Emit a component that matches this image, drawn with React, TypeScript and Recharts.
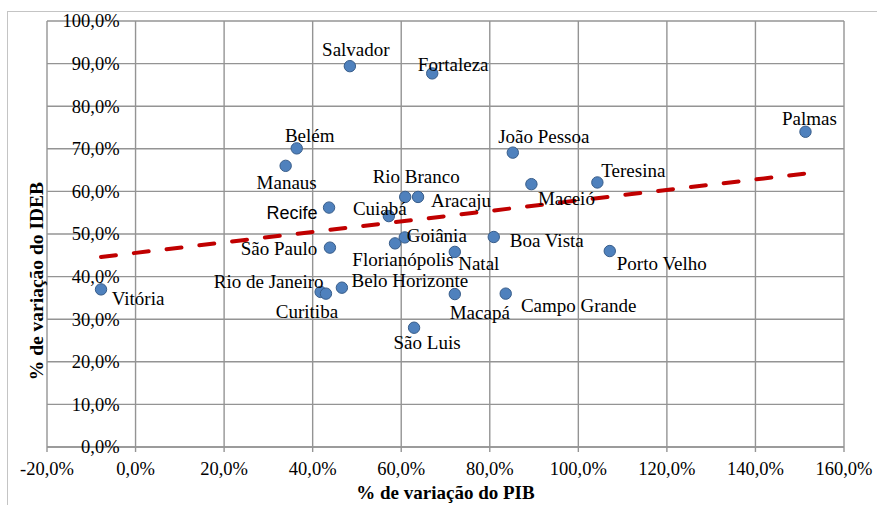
import React from 'react';
import { ScatterChart, Scatter, XAxis, YAxis, CartesianGrid, ReferenceLine, Label } from 'recharts';

// ---- data ----
const cities = [
  'Salvador', 'Fortaleza', 'Belém', 'Manaus', 'João Pessoa', 'Maceió', 'Teresina', 'Palmas',
  'Rio Branco', 'Aracaju', 'Recife', 'Cuiabá', 'Goiânia', 'Florianópolis', 'São Paulo',
  'Boa Vista', 'Natal', 'Porto Velho', 'Rio de Janeiro', 'Curitiba', 'Belo Horizonte',
  'Macapá', 'Campo Grande', 'São Luis', 'Vitória',
];
const pibVariation = [
  48.4, 67.0, 36.4, 33.9, 85.2, 89.4, 104.3, 151.3,
  60.9, 63.8, 43.7, 57.2, 60.8, 58.6, 43.9,
  80.9, 72.1, 107.1, 41.8, 43.0, 46.6,
  72.1, 83.6, 62.9, -7.8,
];
const idebVariation = [
  89.4, 87.7, 70.1, 66.0, 69.1, 61.7, 62.1, 74.0,
  58.7, 58.7, 56.2, 54.2, 49.2, 47.8, 46.8,
  49.3, 45.8, 46.0, 36.4, 36.0, 37.4,
  35.9, 36.0, 28.0, 37.0,
];
const xTicks = [-20, 0, 20, 40, 60, 80, 100, 120, 140, 160];
const yTicks = [0, 10, 20, 30, 40, 50, 60, 70, 80, 90, 100];
const trendX = [-7.8, 151.3];
const trendY = [44.6, 64.2];
const xTitle = '% de variação do PIB';
const yTitle = '% de variação do IDEB';

// ---- layout / style ----
const W = 877;
const H = 505;
const Y_AXIS_W = 40;
const M = { top: 21, right: 33, bottom: 0, left: 47 - Y_AXIS_W };
const PLOT_LEFT = M.left + Y_AXIS_W;
const X_AXIS_H = 58;
const X_MIN = -20;
const X_MAX = 160;
const PLOT_W = W - PLOT_LEFT - M.right;
const SERIF = '"Liberation Serif", "Times New Roman", serif';
const GRID = '#949494';

// label placement relative to each point (dx, dy of visual centre)
const labelPlacement: Record<string, [number, number]> = {
  Salvador: [6, -16],
  Fortaleza: [21, -9],
  'Belém': [13, -13],
  Manaus: [1, 17],
  'João Pessoa': [31, -16],
  'Maceió': [35, 15],
  Teresina: [36, -12],
  Palmas: [4, -13],
  'Rio Branco': [11, -20],
  Aracaju: [43, 4],
  Recife: [-37, 5],
  'Cuiabá': [-9, -7],
  'Goiânia': [32, -2],
  'Florianópolis': [8, 16],
  'São Paulo': [-51, 1],
  'Boa Vista': [53, 4],
  Natal: [24, 12],
  'Porto Velho': [52, 13],
  'Rio de Janeiro': [-52, -10],
  Curitiba: [-19, 18],
  'Belo Horizonte': [68, -7],
  'Macapá': [25, 19],
  'Campo Grande': [73, 12],
  'São Luis': [13, 15],
  'Vitória': [37, 9],
};
const sansLabels = new Set(['Recife']);

const data = cities.map((name, i) => ({ name, x: pibVariation[i], y: idebVariation[i] }));

const fmt = (v: number) => v.toFixed(1).replace('.', ',') + '%';

const xZeroPx = PLOT_LEFT + ((0 - X_MIN) / (X_MAX - X_MIN)) * PLOT_W;

const YTick = (props: any) => {
  const { y, payload } = props;
  return (
    <text x={xZeroPx - 16} y={y} dy="0.35em" textAnchor="end" fontFamily={SERIF} fontSize={18.5} fill="#000">
      {fmt(payload.value)}
    </text>
  );
};

const XTick = (props: any) => {
  const { x, y, payload } = props;
  return (
    <text x={x} y={y} dy="0.71em" textAnchor="middle" fontFamily={SERIF} fontSize={18.5} fill="#000">
      {fmt(payload.value)}
    </text>
  );
};

const Dot = (props: any) => {
  const { cx, cy } = props;
  if (cx == null || cy == null) return <g />;
  return <circle cx={cx} cy={cy} r={5.7} fill="#4F81BD" stroke="#385D8A" strokeWidth={1} />;
};

const CityLabel = (props: any) => {
  const { cx, cy, payload } = props;
  if (cx == null || cy == null || !payload) return <g />;
  const [dx, dy] = labelPlacement[payload.name] || [0, -14];
  const sans = sansLabels.has(payload.name);
  return (
    <text
      x={cx + dx}
      y={cy + dy}
      dy="0.33em"
      textAnchor="middle"
      fontFamily={sans ? '"Liberation Sans", Arial, sans-serif' : SERIF}
      fontSize={sans ? 18 : 19}
      fill="#000"
    >
      {payload.name}
    </text>
  );
};

const XTitle = (props: any) => {
  const vb = props.viewBox || {};
  return (
    <text x={vb.x + vb.width / 2} y={vb.y + 52} textAnchor="middle" fontFamily={SERIF} fontWeight="bold" fontSize={19} fill="#000">
      {xTitle}
    </text>
  );
};

const YTitle = (props: any) => {
  const vb = props.viewBox || {};
  const cx = vb.x + vb.width - 10.5;
  const cy = vb.y + vb.height / 2 + 47;
  return (
    <text
      x={cx}
      y={cy}
      dy="0.35em"
      transform={`rotate(-90, ${cx}, ${cy})`}
      textAnchor="middle"
      fontFamily={SERIF}
      fontWeight="bold"
      fontSize={19.5}
      fill="#000"
    >
      {yTitle}
    </text>
  );
};

export default function App() {
  return (
    <div style={{ position: 'absolute', left: 0, top: 0, width: W, height: H, overflow: 'hidden', background: '#fff' }}>
      <div
        style={{
          position: 'absolute',
          left: 7,
          top: 11,
          width: 1000,
          height: 1000,
          border: '1px solid #c4c4c4',
          boxSizing: 'border-box',
        }}
      />
      <div style={{ position: 'absolute', left: 0, top: 0 }}>
        <ScatterChart width={W} height={H} margin={M}>
          <CartesianGrid stroke={GRID} strokeWidth={1.4} />
          <XAxis
            type="number"
            dataKey="x"
            domain={[X_MIN, X_MAX]}
            ticks={xTicks}
            interval={0}
            allowDataOverflow
            height={X_AXIS_H}
            tick={XTick}
            tickLine={{ stroke: GRID, strokeWidth: 1.4 }}
            tickSize={5}
            tickMargin={10}
            axisLine={{ stroke: GRID, strokeWidth: 1.4 }}
          >
            <Label content={XTitle} />
          </XAxis>
          <YAxis
            type="number"
            dataKey="y"
            domain={[0, 100]}
            ticks={yTicks}
            interval={0}
            allowDataOverflow
            width={Y_AXIS_W}
            tick={YTick}
            tickLine={false}
            axisLine={false}
          >
            <Label content={YTitle} />
          </YAxis>
          <ReferenceLine
            segment={[
              { x: trendX[0], y: trendY[0] },
              { x: trendX[1], y: trendY[1] },
            ]}
            stroke="#C00000"
            strokeWidth={4}
            strokeDasharray="15 18"
            strokeLinecap="round"
          />
          <Scatter data={data} shape={Dot} isAnimationActive={false} />
          <Scatter data={data} shape={CityLabel} isAnimationActive={false} />
        </ScatterChart>
      </div>
    </div>
  );
}
